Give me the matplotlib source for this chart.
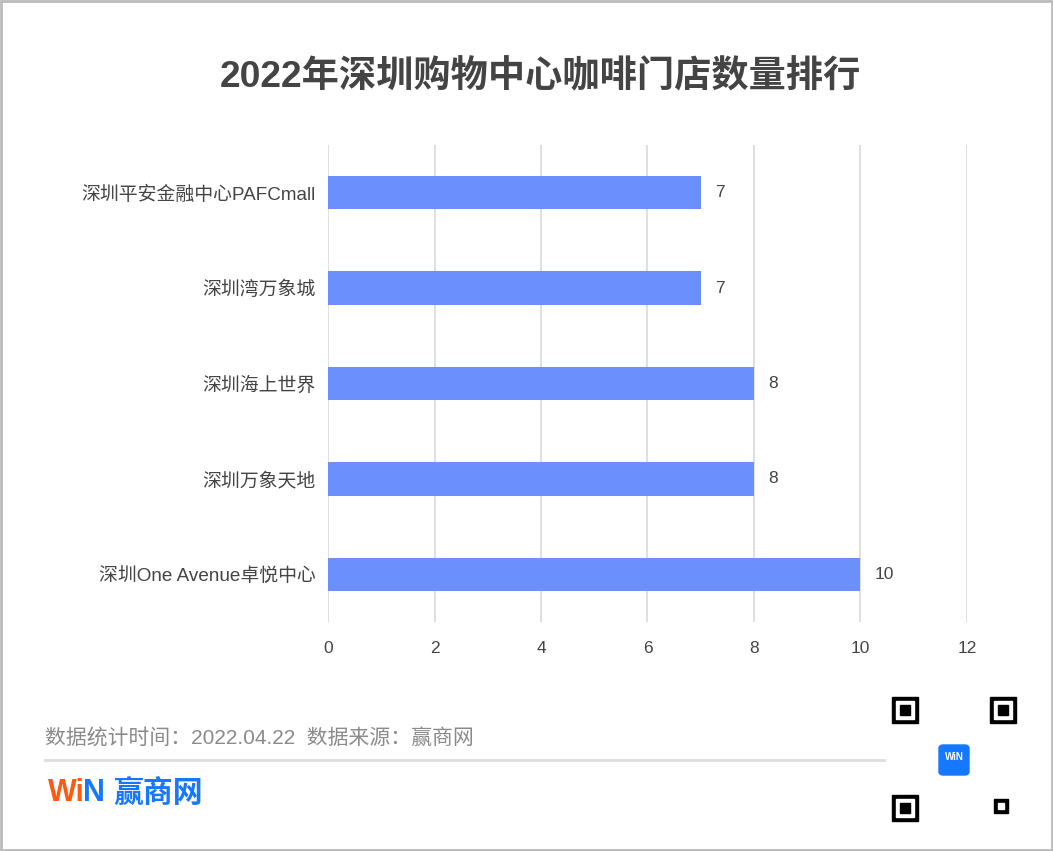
import matplotlib.pyplot as plt
from matplotlib.patches import Rectangle, FancyBboxPatch
from matplotlib.lines import Line2D

plt.rcParams['font.family'] = ['Liberation Sans', 'Noto Sans CJK SC', 'DejaVu Sans']

# data (top to bottom as shown)
malls = ["深圳平安金融中心PAFCmall", "深圳湾万象城", "深圳海上世界", "深圳万象天地", "深圳One Avenue卓悦中心"]
stores = [7, 7, 8, 8, 10]
x_ticks = [0, 2, 4, 6, 8, 10, 12]

title = "2022年深圳购物中心咖啡门店数量排行"
footer = "数据统计时间：2022.04.22  数据来源：赢商网"

W, H = 1053, 851
fig = plt.figure(figsize=(W / 100, H / 100), dpi=100)
fig.patch.set_facecolor('white')

ax = fig.add_axes([328 / W, 1 - 622 / H, (967 - 328) / W, (622 - 145) / H])
pos = list(range(len(malls)))[::-1]
ax.barh(pos, stores, height=0.35, color='#6b8ffd', zorder=3)
for p, v in zip(pos, stores):
    ax.text(v + 0.27, p, str(v), va='center', ha='left', fontsize=12.5, color='#444444')

ax.set_xlim(0, 12)
ax.set_ylim(-0.5, len(malls) - 0.5)
ax.set_xticks(x_ticks)
ax.set_yticks(pos)
ax.set_yticklabels(malls)
ax.tick_params(axis='both', length=0, colors='#444444')
ax.tick_params(axis='x', pad=14, labelsize=12.5)
ax.tick_params(axis='y', pad=9, labelsize=13.6)
ax.grid(axis='x', color='#d9d9d9', linewidth=1.2, zorder=0)
for s in ax.spines.values():
    s.set_visible(False)

# title
fig.text(540 / W, 1 - 78 / H, title, ha='center', va='center', fontsize=26.8,
         fontweight='bold', color='#444444')

# footer text and separator
fig.text(45 / W, 1 - 738 / H, footer, ha='left', va='center', fontsize=15, color='#8a8a8a')
fig.add_artist(Line2D([45 / W, 884 / W], [1 - 760 / H, 1 - 760 / H],
                      color='#dddddd', linewidth=2, transform=fig.transFigure))

# logo
fig.text(48 / W, 1 - 793 / H, "Wi", ha='left', va='center', fontsize=22,
         fontweight='bold', color='#ff5a0f')
fig.text(83 / W, 1 - 793 / H, "N", ha='left', va='center', fontsize=22,
         fontweight='bold', color='#1677ff')
fig.text(113 / W, 1 - 793 / H, "赢商网", ha='left', va='center', fontsize=21.5,
         fontweight='bold', color='#1677ff')

# QR code placeholder: finder patterns and centre logo
def px_rect(x, y, w, h, **kw):
    fig.add_artist(Rectangle((x / W, 1 - (y + h) / H), w / W, h / H,
                             transform=fig.transFigure, **kw))

qx, qy, qs = 892, 697, 124
for fx, fy in [(qx, qy), (qx + qs - 26, qy), (qx, qy + qs - 26)]:
    px_rect(fx, fy, 26, 26, color='black')
    px_rect(fx + 4, fy + 4, 18, 18, color='white')
    px_rect(fx + 8, fy + 8, 10, 10, color='black')
px_rect(qx + qs - 22, qy + qs - 22, 14, 14, color='black')
px_rect(qx + qs - 18, qy + qs - 18, 6, 6, color='white')
fig.add_artist(FancyBboxPatch((939 / W, 1 - 775 / H), 30 / W, 30 / H,
                              boxstyle='round,pad=0,rounding_size=0.004',
                              transform=fig.transFigure, color='#1677ff'))
fig.text(954 / W, 1 - 757 / H, "WiN", ha='center', va='center', fontsize=7,
         fontweight='bold', color='white')

# outer border
px_rect(1, 1, W - 2, H - 2, fill=False, edgecolor='#bbbbbb', linewidth=2)

fig.savefig('out.png', dpi=100)
